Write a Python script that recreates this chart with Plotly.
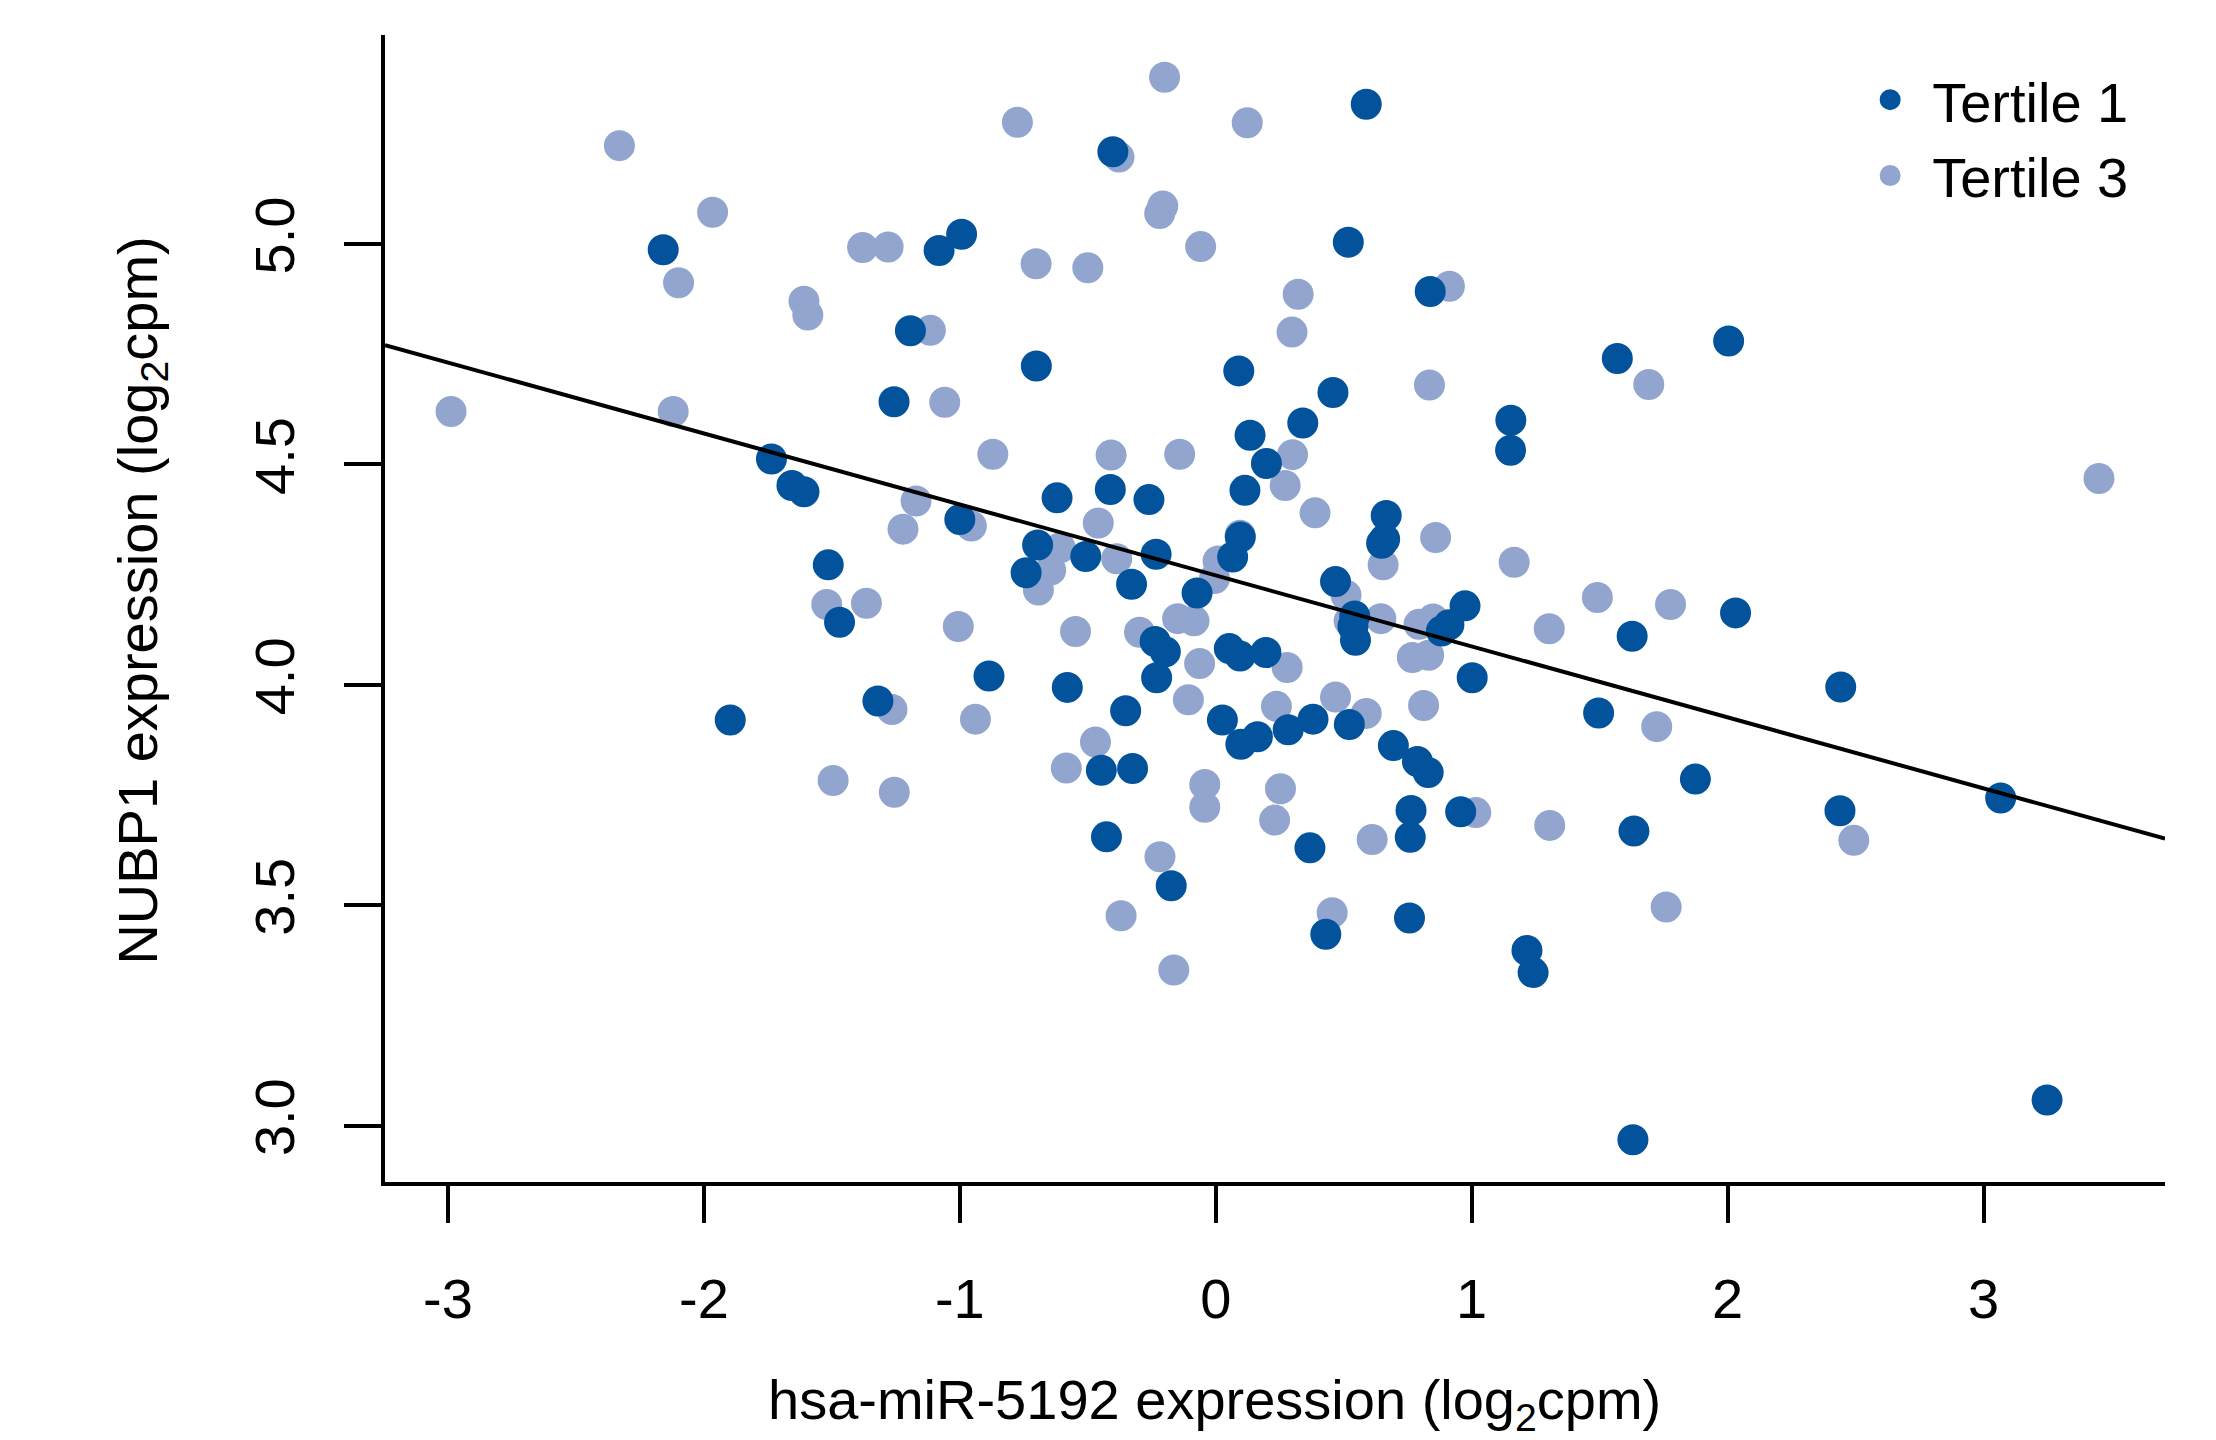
import plotly.graph_objects as go

# ---- data (log2 cpm) ----
t1_x = [-2.159, -1.081, -0.993, -1.193, -1.257, 0.588, -0.402, 0.518, 0.838, -0.701,
        0.090, 0.458, 1.153, 0.340, 0.134, 1.569, 2.004, -1.736, -1.656, -1.609,
        -1.000, -1.514, -1.470, -0.886, -1.897, -1.320, 0.198, 1.152, -0.620, -0.412,
        -0.261, 0.114, 0.666, 0.660, 0.648, -0.696, -0.741, -0.508, -0.329, -0.233,
        0.096, 0.066, -0.073, 0.468, 0.543, 0.536, 0.546, 0.911, 0.882, 0.974,
        1.002, -0.237, -0.197, -0.231, 0.053, 0.095, 0.196, -0.580, -0.352, -0.447,
        -0.325, 0.026, 0.098, 0.163, 0.283, 0.380, 0.522, 0.694, 0.788, 0.830,
        0.763, 0.957, -0.427, -0.174, 0.368, 0.760, 0.430, 0.757, 1.216, 1.240,
        1.627, 2.031, 2.442, 1.496, 1.874, 2.439, 3.067, 1.634, 1.630, 3.248]
t1_y = [4.987, 4.985, 5.022, 4.803, 4.642, 5.317, 5.209, 5.004, 4.892, 4.723,
        4.712, 4.663, 4.600, 4.594, 4.566, 4.740, 4.780, 4.512, 4.452, 4.438,
        4.375, 4.272, 4.142, 4.020, 3.920, 3.963, 4.502, 4.532, 4.424, 4.443,
        4.420, 4.441, 4.384, 4.330, 4.321, 4.317, 4.254, 4.291, 4.228, 4.296,
        4.335, 4.290, 4.208, 4.234, 4.156, 4.132, 4.101, 4.136, 4.122, 4.179,
        4.016, 4.098, 4.075, 4.016, 4.082, 4.065, 4.073, 3.994, 3.941, 3.806,
        3.810, 3.920, 3.865, 3.882, 3.898, 3.922, 3.910, 3.862, 3.826, 3.801,
        3.715, 3.712, 3.655, 3.544, 3.630, 3.654, 3.434, 3.471, 3.397, 3.347,
        4.110, 4.163, 3.995, 3.936, 3.786, 3.714, 3.743, 3.668, 2.968, 3.058]

t3_x = [-2.330, -1.966, -2.099, -1.380, -1.280, -1.609, -1.594, -1.115, -1.059, -2.988,
        -2.120, -0.200, -0.775, 0.123, -0.378, -0.207, -0.219, -0.059, -0.702, -0.500,
        0.322, 0.913, 0.298, 0.835, 1.692, -1.171, -1.222, -0.955, -0.871, -1.520,
        -1.365, -1.006, -1.265, -0.939, -1.495, -1.256, -0.409, -0.141, 0.300, -0.459,
        0.271, 0.388, 0.654, 0.859, 1.166, -0.608, -0.645, -0.693, -0.387, 0.095,
        0.009, -0.005, 0.509, 0.521, 0.645, 0.794, 0.849, 1.303, 0.768, 0.832,
        -0.548, -0.298, -0.149, -0.085, -0.063, 0.279, -0.107, -0.470, -0.584, 0.237,
        0.468, 0.588, 0.812, -0.043, -0.043, 0.253, 0.230, 1.016, 1.305, -0.218,
        -0.370, -0.164, 0.611, 0.455, 3.451, 1.491, 1.777, 1.723, 2.493, 1.760]
t3_y = [5.223, 5.072, 4.912, 4.992, 4.993, 4.870, 4.839, 4.804, 4.641, 4.620,
        4.620, 5.378, 5.276, 5.275, 5.197, 5.086, 5.069, 4.994, 4.955, 4.946,
        4.886, 4.904, 4.800, 4.680, 4.681, 4.417, 4.353, 4.360, 4.523, 4.182,
        4.185, 4.132, 3.944, 3.922, 3.783, 3.756, 4.521, 4.523, 4.522, 4.367,
        4.452, 4.390, 4.272, 4.334, 4.278, 4.311, 4.260, 4.215, 4.286, 4.339,
        4.281, 4.241, 4.203, 4.145, 4.150, 4.137, 4.149, 4.127, 4.062, 4.067,
        4.121, 4.119, 4.150, 4.145, 4.048, 4.039, 3.966, 3.870, 3.811, 3.951,
        3.972, 3.935, 3.953, 3.774, 3.722, 3.764, 3.693, 3.710, 3.681, 3.610,
        3.476, 3.353, 3.649, 3.483, 4.468, 4.198, 4.182, 3.905, 3.647, 3.496]

series_names = ["Tertile 1", "Tertile 3"]

# fitted regression line
fit_intercept = 4.248
fit_slope = -0.161

x_tick_vals = [-3, -2, -1, 0, 1, 2, 3]
x_tick_text = ["-3", "-2", "-1", "0", "1", "2", "3"]
y_tick_vals = [3.0, 3.5, 4.0, 4.5, 5.0]
y_tick_text = ["3.0", "3.5", "4.0", "4.5", "5.0"]

x_title = "hsa-miR-5192 expression (log<sub>2</sub>cpm)"
y_title = "NUBP1 expression (log<sub>2</sub>cpm)"

# ---- styling ----
DARK = "#03539C"
LIGHT = "#92A5CF"
FONT = "Liberation Sans"
FS = 56

x_range = [-3.246, 3.709]
y_range = [2.872, 5.474]

fig = go.Figure()

fig.add_trace(go.Scatter(
    x=t3_x, y=t3_y, mode="markers", name=series_names[1],
    marker=dict(color=LIGHT, size=26, line=dict(color=LIGHT, width=5)),
    cliponaxis=False,
))
fig.add_trace(go.Scatter(
    x=t1_x, y=t1_y, mode="markers", name=series_names[0],
    marker=dict(color=DARK, size=26, line=dict(color=DARK, width=5)),
    cliponaxis=False,
))

line_x = list(x_range)
line_y = [fit_intercept + fit_slope * v for v in line_x]
fig.add_trace(go.Scatter(
    x=line_x, y=line_y, mode="lines", showlegend=False,
    line=dict(color="black", width=4),
))

axis_common = dict(
    showline=True, linecolor="black", linewidth=4, mirror=False,
    ticks="outside", ticklen=37, tickwidth=4, tickcolor="black",
    showgrid=False, zeroline=False,
    tickfont=dict(family=FONT, size=FS, color="black"),
)

fig.update_layout(
    width=2216, height=1440,
    margin=dict(l=385, r=51, t=35, b=258),
    paper_bgcolor="white", plot_bgcolor="white",
    font=dict(family=FONT, size=FS, color="black"),
    xaxis=dict(range=x_range, tickvals=x_tick_vals, ticktext=x_tick_text,
               ticklabelstandoff=28, **axis_common),
    yaxis=dict(range=y_range, tickvals=y_tick_vals, ticktext=y_tick_text,
               tickangle=-90, ticklabelstandoff=28, **axis_common),
    legend=dict(
        x=0.822, y=0.981, xanchor="left", yanchor="top",
        bgcolor="rgba(0,0,0,0)", borderwidth=0,
        font=dict(family=FONT, size=FS, color="black"),
        traceorder="reversed", itemsizing="trace", itemwidth=74,
        tracegroupgap=0,
    ),
    annotations=[
        dict(text=x_title, xref="paper", yref="paper", x=0.466, y=-0.193,
             xanchor="center", yanchor="middle", showarrow=False,
             font=dict(family=FONT, size=FS, color="black")),
        dict(text=y_title, xref="paper", yref="paper", x=-0.137, y=0.507,
             xanchor="center", yanchor="middle", showarrow=False, textangle=-90,
             font=dict(family=FONT, size=FS, color="black")),
    ],
)

fig.write_html("out.html", config={"displayModeBar": False},
               post_script="document.body.style.margin='0px';")
